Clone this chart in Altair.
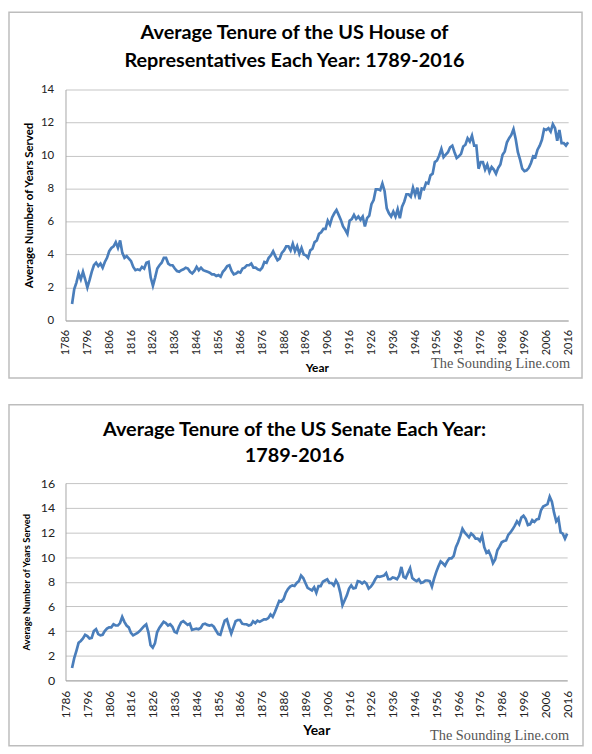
import altair as alt
import pandas as pd

years = list(range(1789, 2017))

house = [
    1.0, 1.9, 2.3, 2.85, 2.5, 2.95, 2.5, 2.0, 2.45, 2.95,
    3.35, 3.5, 3.3, 3.45, 3.2, 3.55, 3.8, 4.2, 4.4, 4.5,
    4.75, 4.4, 4.85, 4.1, 3.8, 3.9, 3.75, 3.6, 3.25, 3.05,
    3.1, 3.05, 3.25, 3.15, 3.5, 3.55, 2.6, 2.1, 2.6, 3.15,
    3.35, 3.5, 3.8, 3.8, 3.45, 3.35, 3.35, 3.15, 3.0, 2.95,
    3.05, 3.1, 3.2, 3.15, 2.95, 2.85, 3.0, 3.25, 3.05, 3.2,
    3.05, 3.0, 2.95, 2.9, 2.8, 2.8, 2.7, 2.75, 2.65, 2.95,
    3.1, 3.3, 3.35, 3.0, 2.8, 2.85, 2.95, 2.9, 3.15, 3.2,
    3.35, 3.35, 3.45, 3.2, 3.2, 3.1, 3.05, 3.2, 3.55, 3.5,
    3.8, 3.95, 4.2, 3.9, 3.65, 3.75, 4.1, 4.25, 4.5, 4.5,
    4.25, 4.65, 4.2, 4.5, 4.05, 4.4, 4.0, 3.95, 3.8, 4.25,
    4.35, 4.75, 4.85, 5.25, 5.35, 5.55, 5.55, 6.05, 5.8, 6.25,
    6.5, 6.7, 6.4, 6.1, 5.7, 5.5, 5.25, 6.05, 6.15, 6.4,
    6.15, 6.3, 6.1, 6.3, 5.7, 6.2, 6.35, 7.05, 7.3, 7.95,
    7.95, 7.9, 8.3, 7.85, 6.8, 6.5, 6.3, 6.6, 6.3, 6.75,
    6.2, 6.9, 7.2, 7.65, 7.65, 7.5, 8.05, 7.6, 8.05, 7.35,
    8.0, 7.95, 8.35, 8.3, 8.8, 8.9, 9.6, 9.7, 10.0, 10.4,
    9.9, 10.05, 10.2, 10.5, 10.6, 10.2, 9.85, 9.95, 10.1, 10.55,
    10.65, 11.05, 10.85, 11.2, 10.6, 10.6, 9.2, 9.6, 9.6, 9.15,
    9.45, 9.0, 9.3, 9.15, 8.9, 9.25, 9.45, 10.05, 10.25, 10.8,
    11.05, 11.25, 11.6, 11.0, 10.2, 9.75, 9.2, 9.05, 9.1, 9.25,
    9.55, 9.95, 9.9, 10.35, 10.6, 10.95, 11.6, 11.55, 11.65, 11.45,
    11.9, 11.65, 10.9, 11.55, 10.75, 10.75, 10.6, 10.8,
]

senate = [
    1.0, 1.8, 2.4, 3.05, 3.2, 3.4, 3.7, 3.6, 3.4, 3.45,
    4.0, 4.15, 3.75, 3.65, 3.7, 4.0, 4.2, 4.3, 4.3, 4.55,
    4.45, 4.45, 4.65, 5.15, 4.75, 4.45, 4.3, 3.85, 3.65, 3.75,
    3.85, 4.0, 4.2, 4.4, 4.55, 3.9, 2.85, 2.65, 3.0, 3.9,
    4.25, 4.5, 4.75, 4.65, 4.45, 4.55, 4.35, 3.95, 3.85, 4.35,
    4.7, 4.8, 4.65, 4.5, 4.6, 4.1, 4.15, 4.2, 4.15, 4.25,
    4.55, 4.6, 4.5, 4.45, 4.5, 4.35, 4.05, 3.75, 3.7, 4.3,
    4.85, 4.95, 4.35, 3.8, 4.3, 4.8, 4.9, 4.9, 4.6, 4.55,
    4.55, 4.45, 4.5, 4.8, 4.65, 4.85, 4.75, 4.85, 4.95, 4.95,
    5.05, 5.35, 5.15, 5.55, 6.0, 6.45, 6.4, 6.6, 7.1, 7.4,
    7.6, 7.7, 7.65, 7.9, 8.05, 8.5, 8.3, 7.9, 7.5, 7.4,
    7.3, 7.55, 7.1, 7.65, 7.65, 8.0, 8.1, 8.2, 7.9, 7.9,
    7.7, 8.1, 7.8, 7.1, 6.1, 6.5, 6.9, 7.45, 7.7, 7.45,
    7.5, 8.05, 8.0, 7.85, 8.0, 7.85, 7.45, 7.6, 7.85, 8.2,
    8.45, 8.4, 8.45, 8.5, 8.7, 8.2, 8.2, 8.35, 8.3, 8.2,
    8.5, 9.2, 8.4, 8.3, 8.7, 9.1, 8.3, 8.15, 8.05, 8.2,
    7.9, 7.95, 8.1, 8.1, 8.05, 7.6, 8.25, 8.8, 9.25, 9.65,
    9.5, 9.3, 9.65, 9.9, 9.9, 10.1, 10.8, 11.2, 11.7, 12.3,
    12.0, 11.8, 11.6, 11.9, 11.75, 11.5, 11.5, 11.3, 11.75, 10.8,
    10.35, 10.5, 10.1, 9.5, 9.8, 10.55, 10.85, 11.2, 11.3, 11.35,
    11.8, 12.0, 12.25, 12.55, 12.9, 12.65, 13.2, 13.35, 13.1, 12.6,
    12.65, 13.0, 12.85, 13.05, 13.1, 13.8, 14.1, 14.2, 14.3, 14.9,
    14.5, 13.6, 12.9, 13.15, 12.0, 11.9, 11.5, 11.9,
]

x_ticks = list(range(1786, 2017, 10))
house_title = ["Average Tenure of the US House of", "Representatives Each Year: 1789-2016"]
senate_title = ["Average Tenure of the US Senate Each Year:", "1789-2016"]
y_title = "Average Number of Years Served"
x_title = "Year"
watermark = "The Sounding Line.com"

FONT = "Lato"
LINE_COLOR = "#4a7ebb"


def panel(series, ymax, width, height, frame_box, titles, title_pos, wm_pos,
          tick_size, ytitle_size, xtitle_size, ylabel_pad, xlabel_pad,
          ytitle_pad, xtitle_pad):
    df = pd.DataFrame({"Year": years, "Tenure": series})
    one = alt.Data(values=[{"k": 1}])
    fx1, fx2, fy1, fy2 = frame_box
    frame = alt.Chart(one).mark_rect(
        fillOpacity=0, stroke="#bdbdbd", strokeWidth=1.5
    ).encode(x=alt.value(fx1), x2=alt.value(fx2), y=alt.value(fy1), y2=alt.value(fy2))

    line = alt.Chart(df).mark_line(color=LINE_COLOR, strokeWidth=2.7).encode(
        x=alt.X(
            "Year:Q",
            scale=alt.Scale(domain=[1786, 2016], nice=False, zero=False),
            axis=alt.Axis(
                values=x_ticks, format="d", labelAngle=270, labelFontSize=tick_size,
                labelPadding=xlabel_pad, title=x_title, titleFontSize=xtitle_size,
                titlePadding=xtitle_pad, grid=False, ticks=False, labelOverlap=False,
            ),
        ),
        y=alt.Y(
            "Tenure:Q",
            scale=alt.Scale(domain=[0, ymax], nice=False),
            axis=alt.Axis(
                values=list(range(0, ymax + 1, 2)), labelFontSize=tick_size + 0.5,
                labelPadding=ylabel_pad, title=y_title, titleFontSize=ytitle_size,
                titlePadding=ytitle_pad, grid=True, ticks=False,
            ),
        ),
    )

    layers = [frame, line]
    for txt, (tx, ty) in zip(titles, title_pos):
        layers.append(
            alt.Chart(one).mark_text(
                text=txt, font=FONT, fontSize=20, fontWeight="bold",
                align="center", baseline="middle", color="#000000",
            ).encode(x=alt.value(tx), y=alt.value(ty))
        )
    layers.append(
        alt.Chart(one).mark_text(
            text=watermark, font="Liberation Serif", fontSize=14.5,
            align="right", baseline="middle", color="#555555",
        ).encode(x=alt.value(wm_pos[0]), y=alt.value(wm_pos[1]))
    )
    return alt.layer(*layers).properties(width=width, height=height)


top = panel(
    house, 14, 507, 233,
    frame_box=(-57, 521, -78, 291),
    titles=house_title, title_pos=[(231, -57), (231, -29)],
    wm_pos=(509, 277),
    tick_size=11, ytitle_size=11.5, xtitle_size=12,
    ylabel_pad=12, xlabel_pad=9, ytitle_pad=6, xtitle_pad=8,
)

bottom = panel(
    senate, 16, 506, 199,
    frame_box=(-57, 522, -79, 66 + 199),
    titles=senate_title, title_pos=[(231, -54), (231, -27)],
    wm_pos=(508, 255),
    tick_size=12, ytitle_size=9.5, xtitle_size=14,
    ylabel_pad=11, xlabel_pad=10, ytitle_pad=9, xtitle_pad=6,
)

chart = alt.vconcat(top, bottom, spacing=25).properties(
    padding=0
).configure_view(stroke=None).configure_axis(
    labelFont=FONT, titleFont=FONT, labelColor="#222222", titleColor="#000000",
    titleFontWeight="bold", domainColor="#a6a6a6", domainWidth=1,
    gridColor="#c4c4c4", gridWidth=1,
)

chart.save("out.html", embed_options={"renderer": "svg", "actions": False})
